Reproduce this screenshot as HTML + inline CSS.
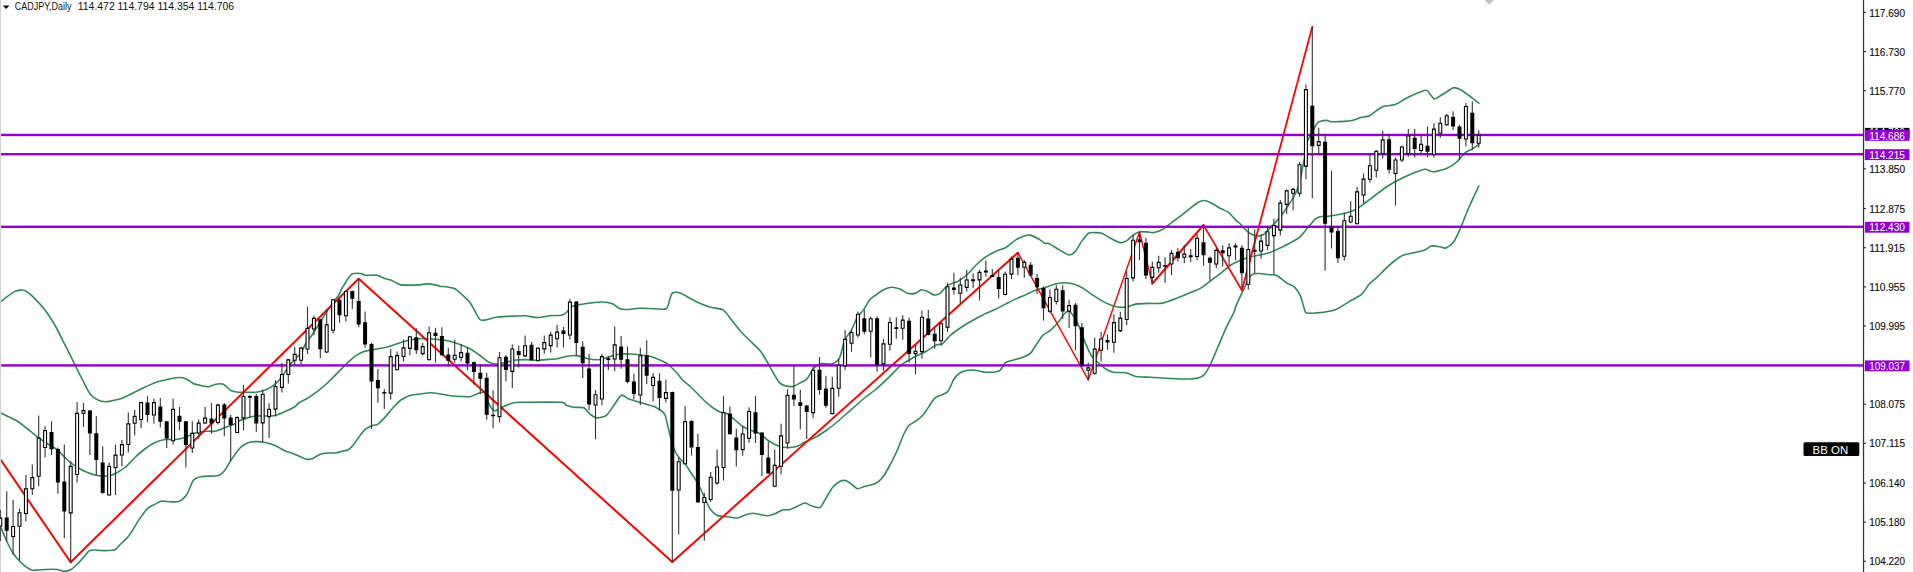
<!DOCTYPE html>
<html><head><meta charset="utf-8"><title>CADJPY,Daily</title>
<style>html,body{margin:0;padding:0;background:#fff;overflow:hidden}body{width:1913px;height:572px}</style></head>
<body>
<svg width="1913" height="572" viewBox="0 0 1913 572" style="display:block">
<rect width="1913" height="572" fill="#fff"/>
<path d="M0 302.16C1 301.39 5.52 297.83 7.53 296.39C9.54 294.95 13.38 292.2 15.06 291.37C16.73 290.53 18.74 290.21 20.08 290.11C21.41 290.01 23.42 289.78 25.09 290.61C26.77 291.45 29.95 293.78 32.62 296.39C35.3 299 42.16 306.27 45.17 310.19C48.18 314.1 52.53 321.06 55.21 325.75C57.88 330.43 62.57 340.03 65.24 345.32C67.92 350.61 72.94 360.71 75.28 365.4C77.62 370.08 80.8 376.6 82.81 380.45C84.82 384.3 88.33 391.64 90.34 394.25C92.35 396.86 95.86 399.02 97.87 400.03C99.87 401.03 103.39 401.71 105.4 401.78C107.4 401.85 110.92 400.93 112.92 400.53C114.93 400.13 118.11 399.61 120.45 398.77C122.79 397.93 127.48 395.69 130.49 394.25C133.5 392.81 139.69 389.55 143.04 387.98C146.38 386.41 152.24 383.63 155.58 382.46C158.93 381.29 165.12 379.87 168.13 379.2C171.14 378.53 175.83 377.51 178.17 377.44C180.51 377.37 183.69 377.89 185.7 378.7C187.7 379.5 191.22 382.56 193.22 383.46C195.23 384.37 198.75 385.04 200.75 385.47C202.76 385.91 206.27 386.89 208.28 386.73C210.29 386.56 213.8 384.55 215.81 384.22C217.82 383.88 221.33 383.38 223.34 384.22C225.35 385.05 228.86 389.42 230.87 390.49C232.87 391.56 236.05 392.01 238.39 392.25C240.74 392.48 246.09 392.25 248.43 392.25C250.77 392.25 253.62 392.58 255.96 392.25C258.3 391.91 263.66 390.64 266 389.74C268.34 388.83 271.52 387.04 273.53 385.47C275.53 383.9 279.05 380.45 281.05 377.94C283.06 375.43 286.57 369.33 288.58 366.65C290.59 363.97 294.44 359.71 296.11 357.87C297.78 356.03 299.79 354.86 301.13 352.85C302.47 350.84 304.48 345.49 306.15 342.81C307.82 340.13 311.67 335.78 313.68 332.77C315.68 329.76 319.2 323.4 321.2 320.23C323.21 317.05 327.06 311.44 328.73 308.93C330.41 306.42 332.41 303.25 333.75 301.41C335.09 299.57 337.72 296.8 338.77 295.13C339.82 293.46 340.81 290.4 341.6 288.9C342.39 287.4 343.86 285.25 344.7 283.9C345.54 282.55 346.89 280.15 347.9 278.8C348.91 277.45 350.62 274.51 352.3 273.8C353.98 273.09 358.74 273.3 360.5 273.5C362.26 273.7 363.33 275.06 365.5 275.3C367.67 275.54 374.12 274.83 376.8 275.3C379.48 275.77 383.75 278.16 385.6 278.8C387.45 279.44 389.35 279.59 390.7 280.1C392.05 280.61 394.35 281.96 395.7 282.6C397.05 283.24 398.95 284.57 400.8 284.9C402.65 285.23 407.04 285.1 409.6 285.1C412.16 285.1 417.73 285.07 420 284.9C422.27 284.73 424.38 283.81 426.6 283.84C428.82 283.87 434.85 284.77 436.64 285.09C438.42 285.42 438.55 286 440 286.25C441.45 286.5 445.5 286.67 447.5 287C449.5 287.33 453 287.68 455 288.75C457 289.82 460.5 293.17 462.5 295C464.5 296.83 468.33 300.33 470 302.5C471.67 304.67 473.67 308.98 475 311.25C476.33 313.52 478.67 318.33 480 319.5C481.33 320.67 482.67 320.33 485 320C487.33 319.67 494.17 317.5 497.5 317C500.83 316.5 506.33 316.42 510 316.25C513.67 316.08 521.33 315.58 525 315.75C528.67 315.92 534.17 317.5 537.5 317.5C540.83 317.5 546.67 316.08 550 315.75C553.33 315.42 560.17 315.6 562.5 315C564.83 314.4 566.17 312.42 567.5 311.25C568.83 310.08 570.83 307.15 572.5 306.25C574.17 305.35 577.67 304.93 580 304.5C582.33 304.07 587 303.33 590 303C593 302.67 599.5 301.9 602.5 302C605.5 302.1 610.17 302.85 612.5 303.75C614.83 304.65 618.17 307.98 620 308.75C621.83 309.52 623.58 309.57 626.25 309.5C628.92 309.43 636.17 308.35 640 308.25C643.83 308.15 651.5 308.68 655 308.75C658.5 308.82 664.25 310.08 666.25 308.75C668.25 307.42 669.17 300.85 670 298.75C670.83 296.65 671.13 293.76 672.5 293C673.87 292.24 677.92 292.29 680.3 293.03C682.68 293.77 687.66 297.14 690.34 298.55C693.02 299.95 697.7 302.39 700.38 303.57C703.05 304.74 707.4 306.49 710.41 307.33C713.43 308.17 720.28 308.33 722.96 309.84C725.64 311.35 728.15 315.78 730.49 318.62C732.83 321.47 737.85 328.16 740.53 331.17C743.2 334.18 747.89 338.53 750.56 341.21C753.24 343.88 758.43 348.57 760.6 351.24C762.78 353.92 765.2 358.44 766.88 361.28C768.55 364.13 771.48 369.73 773.15 372.57C774.82 375.42 777.75 380.84 779.42 382.61C781.1 384.39 783.86 385.37 785.7 385.87C787.54 386.38 791.22 386.81 793.22 386.38C795.23 385.94 798.91 383.62 800.75 382.61C802.59 381.61 805.35 380.69 807.03 378.85C808.7 377.01 811.46 370.82 813.3 368.81C815.14 366.8 818.32 364.46 820.83 363.79C823.34 363.12 829.61 364.63 832.12 363.79C834.63 362.96 837.98 360.7 839.65 357.52C841.32 354.34 843.16 343.47 844.67 339.95C846.17 336.44 849.27 334.18 850.94 331.17C852.61 328.16 855.54 320.21 857.21 317.37C858.89 314.52 861.82 312.18 863.49 309.84C865.16 307.5 868.09 301.81 869.76 299.8C871.43 297.79 874.19 296.12 876.04 294.78C877.88 293.44 881.56 290.77 883.56 289.76C885.57 288.76 888.9 287.35 891.09 287.25C893.28 287.16 897.81 288.27 900 289.08C902.19 289.9 905.52 292.78 907.53 293.35C909.54 293.92 913.22 293.82 915.06 293.35C916.9 292.88 919.66 290.07 921.33 289.84C923 289.6 925.93 290.92 927.6 291.59C929.28 292.26 932.2 294.62 933.88 294.86C935.55 295.09 938.31 294.62 940.15 293.35C941.99 292.08 945.34 286.89 947.68 285.32C950.02 283.75 955.04 283.06 957.72 281.56C960.39 280.05 965.41 276.14 967.75 274.03C970.1 271.92 972.94 267.99 975.28 265.75C977.62 263.5 982.64 259.12 985.32 257.21C988 255.31 992.68 252.71 995.36 251.44C998.03 250.17 1002.72 249.18 1005.4 247.68C1008.07 246.17 1013.09 241.66 1015.43 240.15C1017.77 238.64 1020.95 237.06 1022.96 236.39C1024.97 235.72 1028.22 234.66 1030.49 235.13C1032.76 235.6 1038.07 238.81 1040 239.9C1041.93 240.99 1043.83 242.81 1045 243.3C1046.17 243.79 1046.95 242.76 1048.8 243.6C1050.65 244.44 1056.21 248.08 1058.9 249.6C1061.59 251.12 1066.81 254.76 1069 255C1071.19 255.24 1073.62 253.21 1075.3 251.4C1076.98 249.59 1079.84 243.83 1081.6 241.4C1083.36 238.97 1086.66 234.37 1088.5 233.2C1090.34 232.03 1093.64 232.6 1095.4 232.6C1097.16 232.6 1099.69 232.45 1101.7 233.2C1103.71 233.95 1108.15 236.97 1110.5 238.2C1112.85 239.43 1117.29 241.97 1119.3 242.4C1121.31 242.83 1123.75 242.37 1125.6 241.4C1127.45 240.43 1131.35 236.37 1133.2 235.1C1135.05 233.83 1137.65 232.33 1139.5 231.9C1141.35 231.47 1145.25 231.81 1147.1 231.9C1148.95 231.99 1151.68 232.76 1153.4 232.6C1155.12 232.44 1158.65 231.2 1160 230.7C1161.35 230.2 1162.02 229.87 1163.49 228.86C1164.96 227.84 1168.67 224.86 1171.02 223.09C1173.36 221.31 1178.38 217.63 1181.05 215.56C1183.73 213.48 1188.75 209.34 1191.09 207.53C1193.43 205.72 1196.78 202.94 1198.62 202.01C1200.46 201.07 1203.22 200.37 1204.89 200.5C1206.57 200.64 1208.99 201.91 1211.17 203.01C1213.34 204.12 1218.86 207.51 1221.2 208.78C1223.55 210.05 1226.73 210.97 1228.73 212.55C1230.74 214.12 1234.76 219.12 1236.26 220.58C1237.76 222.04 1239 222.51 1240 223.5C1241 224.49 1242.42 226.67 1243.75 228C1245.08 229.33 1248.17 232.43 1250 233.5C1251.83 234.57 1255.67 235.9 1257.5 236C1259.33 236.1 1262.25 235.15 1263.75 234.25C1265.25 233.35 1267.25 230.75 1268.75 229.25C1270.25 227.75 1273.33 224.83 1275 223C1276.67 221.17 1279.58 217.67 1281.25 215.5C1282.92 213.33 1285.83 209.25 1287.5 206.75C1289.17 204.25 1292.25 199.58 1293.75 196.75C1295.25 193.92 1297.58 189.33 1298.75 185.5C1299.92 181.67 1301.6 172.33 1302.5 168C1303.4 163.67 1304.83 156.57 1305.5 153C1306.17 149.43 1306.43 144.37 1307.5 141.25C1308.57 138.13 1312.21 131.99 1313.5 129.6C1314.79 127.21 1316.45 124.35 1317.2 123.3C1317.95 122.25 1317.83 122.09 1319.1 121.7C1320.37 121.31 1325.02 120.4 1326.7 120.4C1328.38 120.4 1329.35 121.57 1331.7 121.7C1334.05 121.83 1341.45 121.6 1344.3 121.4C1347.15 121.2 1350.91 120.71 1353.1 120.2C1355.29 119.69 1358.51 118.2 1360.7 117.6C1362.89 117 1367.31 116.7 1369.5 115.7C1371.69 114.7 1375.22 111.37 1377.1 110.1C1378.98 108.83 1381.88 106.81 1383.6 106.2C1385.32 105.59 1388.29 105.78 1390 105.5C1391.71 105.22 1394.37 104.99 1396.4 104.1C1398.43 103.21 1402.85 100.09 1405.2 98.8C1407.55 97.51 1411.81 95.37 1414 94.4C1416.19 93.43 1419.84 92.01 1421.6 91.5C1423.36 90.99 1425.52 89.63 1427.2 90.6C1428.88 91.57 1432.44 98.12 1434.2 98.8C1435.96 99.48 1438.56 96.74 1440.4 95.7C1442.24 94.66 1446.21 92.08 1448 91C1449.79 89.92 1452.12 87.76 1453.8 87.6C1455.48 87.44 1458.68 88.81 1460.6 89.8C1462.52 90.79 1466.52 93.8 1468.2 95C1469.88 96.2 1471.77 97.71 1473.2 98.8C1474.63 99.89 1478.14 102.61 1478.9 103.2" fill="none" stroke="#2E8B57" stroke-width="1.6" stroke-linejoin="round" stroke-linecap="round"/>
<path d="M0 412.5C1 413 5.17 415.08 7.5 416.25C9.83 417.42 14.83 419.58 17.5 421.25C20.17 422.92 24.83 426.65 27.5 428.75C30.17 430.85 34.83 435 37.5 437C40.17 439 44.83 442.02 47.5 443.75C50.17 445.48 54.83 447.83 57.5 450C60.17 452.17 64.83 457.67 67.5 460C70.17 462.33 74.83 465.83 77.5 467.5C80.17 469.17 84.83 471.43 87.5 472.5C90.17 473.57 94.83 475.03 97.5 475.5C100.17 475.97 105.17 476.23 107.5 476C109.83 475.77 112.67 474.88 115 473.75C117.33 472.62 122.33 469.67 125 467.5C127.67 465.33 132.33 460 135 457.5C137.67 455 142.33 450.75 145 448.75C147.67 446.75 152.33 443.73 155 442.5C157.67 441.27 162.33 439.9 165 439.5C167.67 439.1 172.33 439.77 175 439.5C177.67 439.23 182.33 438.37 185 437.5C187.67 436.63 192.33 433.83 195 433C197.67 432.17 202.33 431.48 205 431.25C207.67 431.02 212.33 431.75 215 431.25C217.67 430.75 222.33 428.5 225 427.5C227.67 426.5 233 424.68 235 423.75C237 422.82 238.33 421.27 240 420.5C241.67 419.73 245.5 418.6 247.5 418C249.5 417.4 252.67 416.27 255 416C257.33 415.73 262.33 416.07 265 416C267.67 415.93 272.31 416.09 275 415.5C277.69 414.91 282.51 412.8 285.2 411.6C287.89 410.4 293.41 407.64 295.2 406.5C296.99 405.36 296.83 404.23 298.62 403.04C300.41 401.84 305.98 399.19 308.66 397.52C311.33 395.84 316.02 392.6 318.7 390.49C321.37 388.38 326.06 384.22 328.73 381.71C331.41 379.2 336.09 374.35 338.77 371.67C341.45 368.99 346.47 363.81 348.81 361.63C351.15 359.46 354.33 356.7 356.34 355.36C358.34 354.02 361.86 352.33 363.86 351.59C365.87 350.86 369.05 350.27 371.39 349.84C373.73 349.4 378.75 348.87 381.43 348.33C384.11 347.8 388.79 346.62 391.47 345.82C394.14 345.02 398.83 343.11 401.51 342.31C404.18 341.51 408.87 340.3 411.54 339.8C414.22 339.3 418.9 338.64 421.58 338.54C424.26 338.44 428.94 338.88 431.62 339.05C434.3 339.21 439.21 339.5 441.66 339.8C444.11 340.1 447.55 340.67 450 341.3C452.45 341.93 457.33 343.5 460 344.5C462.67 345.5 467.33 347.33 470 348.8C472.67 350.27 477.55 353.74 480 355.5C482.45 357.26 486.27 360.87 488.4 362C490.53 363.13 493.65 363.96 496 364C498.35 364.04 503.33 362.83 506 362.3C508.67 361.77 513.33 360.36 516 360C518.67 359.64 523.33 359.56 526 359.6C528.67 359.64 533.33 360.3 536 360.3C538.67 360.3 543.2 359.8 546 359.6C548.8 359.4 554.2 359.24 557 358.8C559.8 358.36 564.33 356.73 567 356.3C569.67 355.87 574.33 355.31 577 355.6C579.67 355.89 584.33 357.94 587 358.5C589.67 359.06 594.47 359.87 597 359.8C599.53 359.73 603.87 358.57 606 358C608.13 357.43 611 356.03 613 355.5C615 354.97 618.6 354.2 621 354C623.4 353.8 628.33 353.87 631 354C633.67 354.13 638.33 354.67 641 355C643.67 355.33 648.47 355.83 651 356.5C653.53 357.17 657.87 359.07 660 360C662.13 360.93 665.4 362.43 667 363.5C668.6 364.57 670.56 366.6 672 368C673.44 369.4 676.4 372.4 677.8 374C679.2 375.6 680.87 378.37 682.5 380C684.13 381.63 688 384.42 690 386.25C692 388.08 695.5 391.75 697.5 393.75C699.5 395.75 703 399.42 705 401.25C707 403.08 710.5 406.07 712.5 407.5C714.5 408.93 718 411.17 720 412C722 412.83 725.5 412.68 727.5 413.75C729.5 414.82 733 418.33 735 420C737 421.67 740.5 424.92 742.5 426.25C744.5 427.58 747.67 429 750 430C752.33 431 757.67 432.42 760 433.75C762.33 435.08 765.5 438.57 767.5 440C769.5 441.43 773 443.57 775 444.5C777 445.43 780.5 446.6 782.5 447C784.5 447.4 788 447.6 790 447.5C792 447.4 795.5 446.98 797.5 446.25C799.5 445.52 802.67 443.17 805 442C807.33 440.83 812.33 438.93 815 437.5C817.67 436.07 822.33 433.08 825 431.25C827.67 429.42 832.33 425.92 835 423.75C837.67 421.58 842.33 417.33 845 415C847.67 412.67 852.33 408.58 855 406.25C857.67 403.92 862.33 399.67 865 397.5C867.67 395.33 871.86 392.65 875 390C878.14 387.35 885.1 380.92 888.58 377.59C892.07 374.27 897.78 367.72 901.13 365.05C904.48 362.37 910.33 359.36 913.68 357.52C917.02 355.68 923.21 352.92 926.22 351.24C929.23 349.57 934.07 346 936.26 344.97C938.45 343.94 940.8 344.8 942.66 343.54C944.52 342.28 947.85 337.58 950.19 335.51C952.53 333.43 957.55 329.82 960.23 327.98C962.9 326.14 967.25 323.45 970.26 321.71C973.27 319.97 979.46 316.6 982.81 314.93C986.16 313.26 992.35 310.6 995.36 309.16C998.37 307.72 1002.72 305.48 1005.4 304.14C1008.07 302.8 1012.76 300.36 1015.43 299.12C1018.11 297.88 1022.79 296.03 1025.47 294.86C1028.15 293.68 1032.83 291.34 1035.51 290.34C1038.18 289.34 1042.87 288.16 1045.55 287.33C1048.22 286.49 1052.91 284.67 1055.58 284.07C1058.26 283.46 1062.94 282.71 1065.62 282.81C1068.3 282.91 1073.32 284.08 1075.66 284.82C1078 285.55 1080.84 286.93 1083.19 288.33C1085.53 289.74 1090.55 293.58 1093.22 295.36C1095.9 297.13 1100.59 300.23 1103.26 301.63C1105.94 303.04 1110.96 305.13 1113.3 305.9C1115.64 306.67 1118.82 307.3 1120.83 307.4C1122.84 307.5 1126.35 307.08 1128.36 306.65C1130.36 306.21 1133.21 304.58 1135.88 304.14C1138.56 303.71 1145.09 303.49 1148.43 303.39C1151.78 303.29 1157.97 303.79 1160.98 303.39C1163.99 302.99 1168.34 301.28 1171.02 300.38C1173.69 299.47 1178.38 297.68 1181.05 296.61C1183.73 295.54 1188.41 293.52 1191.09 292.35C1193.77 291.18 1198.45 289.44 1201.13 287.83C1203.81 286.22 1208.49 282.31 1211.17 280.3C1213.84 278.29 1218.53 274.85 1221.2 272.77C1223.88 270.7 1228.74 266.38 1231.24 264.74C1233.75 263.11 1237.5 261.56 1240 260.5C1242.5 259.44 1247.33 257.53 1250 256.8C1252.67 256.07 1257.33 255.57 1260 255C1262.67 254.43 1267.33 253.43 1270 252.5C1272.67 251.57 1277.33 249.27 1280 248C1282.67 246.73 1287.33 244.49 1290 243C1292.67 241.51 1297.67 238.8 1300 236.8C1302.33 234.8 1305.5 230.33 1307.5 228C1309.5 225.67 1313.33 220.79 1315 219.3C1316.67 217.81 1318 217.24 1320 216.8C1322 216.36 1327.33 216.33 1330 216C1332.67 215.67 1337.33 214.86 1340 214.3C1342.67 213.74 1347.67 212.57 1350 211.8C1352.33 211.03 1355.5 209.67 1357.5 208.5C1359.5 207.33 1362.67 204.73 1365 203C1367.33 201.27 1372.33 197.5 1375 195.5C1377.67 193.5 1382.33 189.83 1385 188C1387.67 186.17 1392.33 183.29 1395 181.8C1397.67 180.31 1402.33 178.04 1405 176.8C1407.67 175.56 1412.33 173.5 1415 172.5C1417.67 171.5 1422.67 169.39 1425 169.3C1427.33 169.21 1430.5 171.64 1432.5 171.8C1434.5 171.96 1438 171.01 1440 170.5C1442 169.99 1445.26 169.13 1447.5 168C1449.74 166.87 1454.39 164.09 1456.8 162C1459.21 159.91 1463.59 154.01 1465.6 152.3C1467.61 150.59 1470.13 150.25 1471.9 149.2C1473.67 148.15 1477.97 145.04 1478.9 144.4" fill="none" stroke="#2E8B57" stroke-width="1.6" stroke-linejoin="round" stroke-linecap="round"/>
<path d="M0 525.16C0.84 527.17 4.53 536.48 6.29 540.25C8.05 544.03 11.45 550.69 13.21 553.46C14.97 556.23 17.82 559.25 19.5 561.01C21.17 562.77 24.19 565.46 25.79 566.67C27.38 567.87 29.85 569.61 31.45 570.06C33.04 570.52 35.89 570.15 37.74 570.06C39.58 569.98 43.27 569.55 45.28 569.43C47.3 569.32 51.15 569.17 52.83 569.18C54.51 569.2 56.35 569.27 57.86 569.56C59.37 569.84 62.47 571.29 64.15 571.32C65.83 571.35 68.76 570.68 70.44 569.81C72.12 568.94 75.05 566.37 76.73 564.78C78.41 563.19 81.34 559.71 83.02 557.86C84.7 556.02 87.63 552 89.31 550.94C90.99 549.89 94.09 549.99 95.6 549.94C97.11 549.89 98.95 550.48 100.63 550.57C102.31 550.65 106.25 550.68 108.18 550.57C110.1 550.45 113.42 550.56 115.09 549.69C116.77 548.81 118.99 545.79 120.75 544.03C122.52 542.26 126.62 538.49 128.3 536.48C129.98 534.47 131.82 531.28 133.33 528.93C134.84 526.58 137.78 521.55 139.62 518.87C141.47 516.18 145.32 510.65 147.17 508.81C149.01 506.96 151.61 506.04 153.46 505.03C155.3 504.03 159.16 501.73 161.01 501.26C162.85 500.79 164.95 501.48 167.3 501.51C169.64 501.54 176 502.48 178.62 501.51C181.24 500.54 185 497.05 186.95 494.24C188.9 491.44 191.38 482.79 193.22 480.44C195.06 478.1 197.41 477.35 200.75 476.68C204.1 476.01 215.14 476.26 218.32 475.42C221.5 474.59 222.92 472.41 224.59 470.41C226.27 468.4 228.81 463.36 230.87 460.37C232.92 457.37 237.78 450.27 240 447.94C242.22 445.62 245.52 443.76 247.53 442.92C249.54 442.09 252.71 441.74 255.06 441.67C257.4 441.6 262.42 441.92 265.09 442.42C267.77 442.92 272.46 444.3 275.13 445.43C277.81 446.57 283.16 450.02 285.17 450.95C287.18 451.89 288.52 451.86 290.19 452.46C291.86 453.06 295.54 454.57 297.72 455.47C299.89 456.37 304.49 458.83 306.5 459.23C308.51 459.64 310.93 459.15 312.77 458.48C314.61 457.81 318.29 454.95 320.3 454.22C322.31 453.48 325.82 453.13 327.83 452.96C329.84 452.79 333.35 453.23 335.36 452.96C337.37 452.69 341.21 451.36 342.89 450.95C344.56 450.55 346.57 450.69 347.9 449.95C349.24 449.21 351.42 447.21 352.92 445.43C354.43 443.66 357.52 438.82 359.2 436.65C360.87 434.48 363.63 430.63 365.47 429.12C367.31 427.62 371.33 426.03 373 425.36C374.67 424.69 376.34 425.27 378.02 424.1C379.69 422.93 383.54 418.75 385.55 416.57C387.55 414.4 391.07 409.97 393.07 407.79C395.08 405.62 398.26 401.94 400.6 400.26C402.94 398.59 407.96 396.08 410.64 395.24C413.32 394.41 418 394.32 420.68 393.99C423.35 393.66 428.04 392.74 430.72 392.74C433.39 392.74 438.08 393.59 440.75 393.99C443.43 394.39 448.11 395.41 450.79 395.75C453.47 396.08 458.15 396.4 460.83 396.5C463.5 396.6 468.52 396.93 470.87 396.5C473.21 396.06 476.55 393.74 478.39 393.24C480.23 392.74 483.33 391.46 484.67 392.74C486.01 394.01 487.26 400.43 488.43 402.77C489.6 405.12 492.11 409.36 493.45 410.3C494.79 411.24 497.13 410.3 498.47 409.8C499.81 409.3 501.48 407.47 503.49 406.54C505.5 405.6 510.85 403.34 513.53 402.77C516.2 402.2 517.21 402.34 523.56 402.27C529.92 402.2 555.52 401.87 561.2 402.27C566.89 402.67 564.55 404.61 566.22 405.28C567.9 405.95 571.41 406.96 573.75 407.29C576.09 407.62 581.61 406.89 583.79 407.79C585.96 408.7 588.39 412.73 590.06 414.07C591.74 415.4 594.16 417.66 596.34 417.83C598.51 418 604.03 416.99 606.37 415.32C608.72 413.65 611.89 407.96 613.9 405.28C615.91 402.61 619.42 396.08 621.43 395.24C623.44 394.41 626.28 398.01 628.96 399.01C631.64 400.01 638.16 401.77 641.51 402.77C644.85 403.78 651.59 405.57 654.05 406.54C656.52 407.5 658.54 408.87 660 410C661.46 411.13 663.67 411.67 665 415C666.33 418.33 668.67 430.17 670 435C671.33 439.83 673.67 448.08 675 451.25C676.33 454.42 678.67 457.08 680 458.75C681.33 460.42 683.67 462.08 685 463.75C686.33 465.42 688.67 469.25 690 471.25C691.33 473.25 693.67 476.58 695 478.75C696.33 480.92 698.67 484.83 700 487.5C701.33 490.17 703.67 495.92 705 498.75C706.33 501.58 708.5 506.58 710 508.75C711.5 510.92 714.58 514 716.25 515C717.92 516 720.67 515.98 722.5 516.25C724.33 516.52 728 516.77 730 517C732 517.23 735.5 518.27 737.5 518C739.5 517.73 743 515.63 745 515C747 514.37 750.5 513.32 752.5 513.25C754.5 513.18 758 514.17 760 514.5C762 514.83 765.5 515.85 767.5 515.75C769.5 515.65 773 514.52 775 513.75C777 512.98 780.5 510.57 782.5 510C784.5 509.43 788 510 790 509.5C792 509 795.5 507.12 797.5 506.25C799.5 505.38 803 503 805 503C807 503 810.5 505.65 812.5 506.25C814.5 506.85 818.33 508.33 820 507.5C821.67 506.67 823.33 502.67 825 500C826.67 497.33 830.5 490 832.5 487.5C834.5 485 838.17 482.15 840 481.25C841.83 480.35 844.58 480.25 846.25 480.75C847.92 481.25 851 483.93 852.5 485C854 486.07 855.83 488.58 857.5 488.75C859.17 488.92 862.67 486.92 865 486.25C867.33 485.58 872.67 484.92 875 483.75C877.33 482.58 880.5 480 882.5 477.5C884.5 475 888.17 468.33 890 465C891.83 461.67 894.92 455.36 896.25 452.5C897.58 449.64 899 445.97 900 443.54C901 441.11 902.59 436.66 903.76 434.25C904.94 431.84 907.28 427.14 908.78 425.47C910.29 423.8 913.22 423.04 915.06 421.71C916.9 420.37 920.74 417.44 922.58 415.43C924.42 413.43 927.19 408.99 928.86 406.65C930.53 404.31 932.62 399.87 935.13 397.87C937.64 395.86 945.17 394.1 947.68 391.59C950.19 389.08 952.28 381.56 953.95 379.05C955.63 376.54 958.39 373.94 960.23 372.77C962.07 371.6 965.75 370.6 967.75 370.26C969.76 369.93 972.94 370 975.28 370.26C977.62 370.53 982.14 372.17 985.32 372.27C988.5 372.37 996.45 372.29 999.12 371.02C1001.8 369.74 1003.55 364.17 1005.4 362.74C1007.24 361.3 1010.58 360.96 1012.92 360.23C1015.27 359.49 1020.62 358.15 1022.96 357.21C1025.3 356.28 1028.65 354.97 1030.49 353.2C1032.33 351.43 1035.09 346.32 1036.76 343.91C1038.44 341.51 1041.2 336.97 1043.04 335.13C1044.88 333.29 1048.56 331.79 1050.56 330.11C1052.57 328.44 1056.25 324.76 1058.09 322.58C1059.93 320.41 1062.86 315.31 1064.37 313.8C1065.87 312.3 1067.88 310.52 1069.39 311.29C1070.89 312.06 1074.15 317.06 1075.66 319.57C1077.16 322.08 1079.34 326.87 1080.68 330.11C1082.02 333.36 1084.19 340.4 1085.7 343.91C1087.2 347.43 1090.3 353.95 1091.97 356.46C1093.64 358.97 1096.4 361.06 1098.24 362.74C1100.08 364.41 1103.76 367.74 1105.77 369.01C1107.78 370.28 1110.62 371.77 1113.3 372.27C1115.98 372.77 1122.84 372.2 1125.85 372.77C1128.86 373.34 1132.54 375.93 1135.88 376.54C1139.23 377.14 1146.26 377.02 1150.94 377.29C1155.63 377.56 1166 378.31 1171.02 378.54C1176.04 378.78 1184.9 379.15 1188.58 379.05C1192.26 378.95 1196.45 378.46 1198.62 377.79C1200.79 377.12 1203.22 376.04 1204.89 374.03C1206.57 372.02 1209.33 366.58 1211.17 362.74C1213.01 358.89 1216.69 349.85 1218.7 345.17C1220.7 340.49 1224.22 331.95 1226.22 327.6C1228.23 323.25 1232.41 315.51 1233.75 312.55C1235.09 309.59 1234.92 308.52 1236.26 305.4C1237.6 302.27 1241.78 293.1 1243.79 289.08C1245.8 285.07 1249.31 277.36 1251.32 275.28C1253.32 273.21 1256.5 273.59 1258.85 273.53C1261.19 273.46 1266.54 274.55 1268.88 274.78C1271.23 275.01 1274.07 274.21 1276.41 275.28C1278.75 276.35 1284.11 281.3 1286.45 282.81C1288.79 284.32 1292.14 284.9 1293.98 286.57C1295.82 288.25 1298.91 292.51 1300.25 295.36C1301.59 298.2 1303.18 305.56 1304.02 307.9C1304.85 310.25 1304.85 312.25 1306.52 312.92C1308.2 313.59 1313.89 313.09 1316.56 312.92C1319.24 312.76 1323.92 312.17 1326.6 311.67C1329.28 311.17 1333.63 310.5 1336.64 309.16C1339.65 307.82 1345.84 303.64 1349.18 301.63C1352.53 299.62 1359.05 296.45 1361.73 294.1C1364.41 291.76 1367.16 286.37 1369.26 284.07C1371.36 281.76 1375.07 279.1 1377.5 276.8C1379.93 274.5 1385.17 268.97 1387.5 266.8C1389.83 264.63 1393 262.01 1395 260.5C1397 258.99 1399.83 256.57 1402.5 255.5C1405.17 254.43 1412 253.23 1415 252.5C1418 251.77 1422.87 250.87 1425 250C1427.13 249.13 1429 246.43 1431 246C1433 245.57 1438 246.53 1440 246.8C1442 247.07 1444.16 248.67 1446 248C1447.84 247.33 1451.93 244.29 1453.8 241.8C1455.67 239.31 1458.37 232.97 1460 229.3C1461.63 225.63 1464.33 218.3 1466 214.3C1467.67 210.3 1470.79 203.07 1472.5 199.3C1474.21 195.53 1477.96 187.77 1478.8 186" fill="none" stroke="#2E8B57" stroke-width="1.6" stroke-linejoin="round" stroke-linecap="round"/>
<line x1="-10" y1="444.2" x2="70.7" y2="562.3" stroke="#FF0000" stroke-width="2.0" stroke-linecap="round"/>
<line x1="70.7" y1="562.3" x2="358.7" y2="278.8" stroke="#FF0000" stroke-width="2.0" stroke-linecap="round"/>
<line x1="358.7" y1="278.8" x2="672.3" y2="562" stroke="#FF0000" stroke-width="2.0" stroke-linecap="round"/>
<line x1="672.3" y1="562" x2="1017.9" y2="252.7" stroke="#FF0000" stroke-width="2.0" stroke-linecap="round"/>
<line x1="1017.9" y1="252.7" x2="1088.3" y2="379.8" stroke="#FF0000" stroke-width="1.4" stroke-linecap="round"/>
<line x1="1088.3" y1="379.8" x2="1139.5" y2="232.1" stroke="#FF0000" stroke-width="1.4" stroke-linecap="round"/>
<line x1="1139.5" y1="232.1" x2="1152.3" y2="283.6" stroke="#FF0000" stroke-width="1.4" stroke-linecap="round"/>
<line x1="1152.3" y1="283.6" x2="1203.5" y2="225.1" stroke="#FF0000" stroke-width="2.2" stroke-linecap="round"/>
<line x1="1203.5" y1="225.1" x2="1241.9" y2="290.3" stroke="#FF0000" stroke-width="1.7" stroke-linecap="round"/>
<line x1="1241.9" y1="290.3" x2="1312.3" y2="26.8" stroke="#FF0000" stroke-width="1.8" stroke-linecap="round"/>
<rect x="0" y="133.75" width="1864" height="2.4" fill="#9400D3"/>
<rect x="0" y="153" width="1864" height="2.4" fill="#9400D3"/>
<rect x="0" y="225.6" width="1864" height="2.4" fill="#9400D3"/>
<rect x="0" y="364.2" width="1864" height="2.4" fill="#9400D3"/>
<rect x="0" y="0" width="1.1" height="572" fill="#D4D4D4"/>
<path d="M0.3 510V541M6.7 491.25V541.51M13.1 500V554.72M19.5 508.46V560.38M25.9 475V521.32M32.3 464.5V495M38.7 415.5V486.25M45.1 426.25V457.5M51.5 421.25V455M57.9 447.5V493.75M64.3 444.5V538.36M70.7 461.25V562.26M77.1 402V482.5M83.5 403V427M89.9 410V455M96.3 416.25V475M102.7 446.25V493.75M109.1 462.5V495.5M115.5 444.5V495M121.9 440V466.25M128.3 412.5V452.5M134.7 410V435.5M141.1 402V428M147.5 396.25V422M153.9 398.75V423.75M160.3 398V427.5M166.7 421.25V448M173.1 398.75V444.5M179.5 407V430M185.9 421.25V467.5M192.3 421.25V453M198.7 419.5V438.75M205.1 407V423.75M211.5 403V433.75M217.9 403.75V424.5M224.3 403V436.25M230.7 415V461.25M237.1 416.25V433M243.5 384.96V430.38M249.9 394.74V417.83M256.3 393.99V431.63M262.7 389.73V441.67M269.1 403.27V437.9M275.5 380.32V416.57M281.9 363.01V392.62M288.3 358.99V383.46M294.7 346.82V365.01M301.1 346.82V364.01M307.5 306.42V353.97M313.9 315.71V335.28M320.3 318.97V358.24M326.7 308.93V352.97M333.1 298.9V333.27M339.5 297.64V322.74M345.9 290.61V321.48M352.3 290.61V308.93M358.7 278.82V327.25M365.1 311.44V347.7M371.5 342.81V429.12M377.9 369.03V402.77M384.3 389.1V409.05M390.7 348.95V399.39M397.1 351.46V370.28M403.5 339.67V361.5M409.9 336.15V355.23M416.3 328.26V353.97M422.7 342.68V355.23M429.1 326.5V360.24M435.5 327.75V362.75M441.9 327.13V355.23M448.3 347.8V366.43M454.7 340.11V362.67M461.1 344.12V361.42M467.5 346.63V370.19M473.9 361.42V384.56M480.3 364.18V394.12M486.7 373.08V419.84M493.1 390.23V428.37M499.5 352.04V422.35M505.9 355.05V381.35M512.3 344.53V388.11M518.7 345.53V367.57M525.1 335.51V357.05M531.5 342.02V360.56M537.9 347.03V361.31M544.3 335.51V353.79M550.7 332V352.54M557.1 325V347.53M563.5 327V347.53M569.9 298.75V339.52M576.3 301.25V356.3M582.7 341.27V378.09M589.1 353.79V410.15M595.5 390.11V439.16M601.9 354.03V405.16M608.3 356.29V370.07M614.7 326.58V371.33M621.1 335.99V368.82M627.5 346.51V383.61M633.9 373.83V399.31M640.3 347.85V405.16M646.7 340.16V384.27M653.1 373V401.4M659.5 373.16V410.01M665.9 379.43V402.49M672.3 391.4V562M678.7 457.74V534.4M685.1 406V464.3M691.5 420.13V455.44M697.9 433.97V502.39M704.3 492.99V540.67M710.7 472.08V501.89M717.1 449.51V484.85M723.5 396.33V480.47M729.9 406.35V434.51M736.3 428.75V466.45M742.7 426.25V455.8M749.1 407.35V442.65M755.5 396.08V442.9M761.9 432.5V476.21M768.3 441.4V473.71M774.7 449.54V487.36M781.1 423.63V474.59M787.5 389.19V448.66M793.9 365.8V406.1M800.3 389.82V429.5M806.7 405.1V438.89M813.1 366.3V418.25M819.5 357.02V394.7M825.9 375.84V407.85M832.3 376.84V414.24M838.7 358.77V396.71M845.1 329.91V370.07M851.5 329.91V351.75M857.9 311.6V337.44M864.3 309.84V334.18M870.7 316.61V357.52M877.1 316.61V371.82M883.5 338.7V370.82M889.9 317.37V350.74M896.3 317.37V338.7M902.7 315.33V339.68M909.1 317.47V362.39M915.5 345.07V374.56M921.9 310.52V358.87M928.3 309.93V335.36M934.7 327.83V348.83M941.1 320.97V345.7M947.5 282.81V332.1M953.9 272.77V294.44M960.3 277.79V303.48M966.7 269.76V291.56M973.1 273.27V288.33M979.5 269.76V300.47M985.9 260.73V276.54M992.3 269.01V276.79M998.7 269.76V298.46M1005.1 271.52V295.2M1011.5 256.46V279.05M1017.9 252.7V275.28M1024.3 260.23V277.79M1030.7 262.23V276.54M1037.1 274.03V294.1M1043.5 286.57V320.39M1049.9 289.42V312.69M1056.3 285.32V304.41M1062.7 285.32V318.88M1069.1 299.84V328.08M1075.5 302.99V350.09M1081.9 323.02V367.25M1088.3 362.74V379.8M1094.7 337.83V374.78M1101.1 331.93V361.48M1107.5 334.44V349.69M1113.9 314.37V352.7M1120.3 311.86V331.93M1126.7 271.52V325.03M1133.1 234.63V281.56M1139.5 232.12V260.23M1145.9 237.64V279.05M1152.3 261.48V283.56M1158.7 255.71V272.77M1165.1 257.21V282.81M1171.5 250.19V275.28M1177.9 248.18V261.48M1184.3 245.17V263.24M1190.7 248.93V262.23M1197.1 233.88V260.23M1203.5 225.09V265.75M1209.9 256.46V280.8M1216.3 248.18V268.26M1222.7 245.17V266.5M1229.1 243.16V265.75M1235.5 243.16V260.23M1241.9 245.17V288.17M1248.3 227.8V289.54M1254.7 229.43V273.51M1261.1 234.69V258.74M1267.5 225.92V250.09M1273.9 218.66V274.52M1280.3 200V235.57M1286.7 189.58V214.1M1293.1 187.95V210.18M1299.5 162.03V196.72M1305.9 84.51V179.19M1312.3 26.75V198.22M1318.7 127.68V154.14M1325.1 133.95V270.63M1331.5 170.67V248.47M1337.9 227.3V263.12M1344.3 212.77V260.61M1350.7 201.13V223.17M1357.1 186.75V224.3M1363.5 173.43V202.98M1369.9 153.76V182.44M1376.3 150.13V177.43M1382.7 130.69V158.4M1389.1 133.95V173.43M1395.5 157.39V205.49M1401.9 145.62V162.03M1408.3 128.93V156.64M1414.7 128.93V157.39M1421.1 135.21V152.89M1427.5 126.42V157.39M1433.9 123.16V157.39M1440.3 117.14V137.72M1446.7 113.88V125.67M1453.1 111.37V130.19M1459.5 124.67V159.8M1465.9 103.09V146.5M1472.3 101.33V150.26M1478.7 130.19V147.75" stroke="#333" stroke-width="1.1" fill="none"/>
<path d="M4.7 517.47h4V530.79h-4zM49.5 432.1h4V449.35h-4zM55.9 449.1h4V482.6h-4zM62.3 481.6h4V511.38h-4zM87.9 410.6h4V433.6h-4zM94.3 433.35h4V460.1h-4zM100.7 462.6h4V493.1h-4zM145.5 402.6h4V415.1h-4zM158.3 406.6h4V421.85h-4zM164.7 421.35h4V438.6h-4zM177.5 415.85h4V421.85h-4zM183.9 421.35h4V445.1h-4zM209.5 418.6h4V423.6h-4zM222.3 404.6h4V418.6h-4zM228.7 417.6h4V425.1h-4zM247.9 396.1h4V397.85h-4zM254.3 396.1h4V423.45h-4zM318.3 319.32h4V349.18h-4zM337.5 299.75h4V315.31h-4zM350.3 290.97h4V298.74h-4zM356.7 301.01h4V324.59h-4zM363.1 322.34h4V344.53h-4zM369.5 343.91h4V381.55h-4zM375.9 379.92h4V388.2h-4zM382.3 391.97h4V393.47h-4zM414.3 337.26h4V350.18h-4zM433.5 332.74h4V336h-4zM439.9 335.95h4V355.25h-4zM446.3 354.42h4V360.76h-4zM465.5 352.75h4V363.44h-4zM471.9 362.27h4V372.04h-4zM478.3 372.68h4V378.69h-4zM484.7 377.69h4V414.67h-4zM491.1 414.67h4V416.17h-4zM503.9 356.65h4V370.05h-4zM516.7 350.89h4V354.9h-4zM529.5 344.63h4V360.16h-4zM561.5 330.48h4V333.98h-4zM574.3 301.6h4V343.12h-4zM580.7 346.63h4V363.16h-4zM587.1 368.42h4V404.49h-4zM606.3 358.14h4V359.9h-4zM619.1 346.61h4V359.81h-4zM625.5 359.31h4V381.95h-4zM631.9 381.45h4V393.9h-4zM644.7 355.22h4V375.68h-4zM657.5 380.78h4V398.07h-4zM670.3 392.07h4V490.84h-4zM689.5 421.05h4V447.52h-4zM695.9 446.94h4V502.49h-4zM727.9 413.46h4V434.23h-4zM734.3 437.49h4V450.14h-4zM753.5 412.21h4V433.48h-4zM759.9 432.48h4V454.9h-4zM766.3 457.53h4V473.56h-4zM791.9 394.68h4V399.44h-4zM798.3 402.32h4V406.07h-4zM804.7 405.58h4V411.96h-4zM817.5 369.67h4V390.04h-4zM823.9 388.42h4V405.7h-4zM862.3 318.22h4V331.77h-4zM875.1 318.22h4V364.89h-4zM894.3 327.26h4V329.01h-4zM907.1 320.83h4V354.08h-4zM926.3 318.48h4V334.95h-4zM932.7 333.7h4V341.23h-4zM951.9 287.52h4V290.02h-4zM971.1 279.15h4V281.15h-4zM983.9 270.62h4V272.62h-4zM990.3 274.88h4V276.89h-4zM996.7 276.89h4V289.02h-4zM1015.9 257.82h4V267.85h-4zM1028.7 264.84h4V275.38h-4zM1035.1 277.89h4V287.17h-4zM1041.5 288.02h4V308.27h-4zM1060.7 290.28h4V311.53h-4zM1073.5 304.85h4V326.34h-4zM1079.9 327.14h4V365.84h-4zM1105.5 339.94h4V342.57h-4zM1137.5 239.25h4V242.26h-4zM1143.9 242.76h4V275.38h-4zM1163.1 265.35h4V266.85h-4zM1175.9 251.8h4V258.32h-4zM1188.7 255.31h4V257.31h-4zM1201.5 242.26h4V255.31h-4zM1207.9 257.82h4V262.83h-4zM1220.7 250.29h4V253.3h-4zM1233.5 245.52h4V247.53h-4zM1239.9 247.69h4V273.24h-4zM1252.7 249.82h4V251.7h-4zM1310.3 105.65h4V146.22h-4zM1323.1 141.83h4V223.64h-4zM1329.5 226.15h4V232.41h-4zM1335.9 230.78h4V258.21h-4zM1387.1 139.32h4V169.77h-4zM1412.7 137.82h4V148.98h-4zM1425.5 145.85h4V151.86h-4zM1451.1 116.74h4V126.52h-4zM1457.5 126.53h4V138.82h-4zM1470.3 112.72h4V143.34h-4z" fill="#000"/>
<path d="M-1.15 518.15h2.9V526.05h-2.9zM11.65 526.57h2.9V536.53h-2.9zM18.05 512.69h2.9V526.21h-2.9zM24.45 488.9h2.9V513.53h-2.9zM30.85 477.65h2.9V488.8h-2.9zM37.25 438.15h2.9V476.3h-2.9zM43.65 430.65h2.9V447.55h-2.9zM69.25 466.4h2.9V512.9h-2.9zM75.65 413.4h2.9V474.55h-2.9zM82.05 410.65h2.9V413.3h-2.9zM107.65 466.4h2.9V495.05h-2.9zM114.05 455.15h2.9V467.55h-2.9zM120.45 444.65h2.9V455.05h-2.9zM126.85 423.9h2.9V444.55h-2.9zM133.25 416.4h2.9V423.3h-2.9zM139.65 402.65h2.9V419.55h-2.9zM152.45 402.65h2.9V415.05h-2.9zM171.65 409.4h2.9V440.8h-2.9zM190.85 433.4h2.9V448.05h-2.9zM197.25 423.15h2.9V433.05h-2.9zM203.65 418.15h2.9V423.05h-2.9zM216.45 405.15h2.9V422.55h-2.9zM235.65 417.65h2.9V432.55h-2.9zM242.05 396.53h2.9V417.88h-2.9zM261.25 394.27h2.9V422.9h-2.9zM267.65 409.2h2.9V416.62h-2.9zM274.05 386.49h2.9V409.1h-2.9zM280.45 374.57h2.9V387.4h-2.9zM286.85 359.89h2.9V374.47h-2.9zM293.25 354.37h2.9V360.29h-2.9zM299.65 348.1h2.9V360.29h-2.9zM306.05 328.41h2.9V349h-2.9zM312.45 318.37h2.9V329.06h-2.9zM325.25 324.89h2.9V352.01h-2.9zM331.65 299.8h2.9V330.31h-2.9zM344.45 291.52h2.9V315.76h-2.9zM389.25 356.63h2.9V393.17h-2.9zM395.65 355.63h2.9V369.7h-2.9zM402.05 347.85h2.9V356.53h-2.9zM408.45 336.81h2.9V348.37h-2.9zM421.25 346.59h2.9V353.64h-2.9zM427.65 332.79h2.9V359.79h-2.9zM453.25 355.3h2.9V359.21h-2.9zM459.65 352.63h2.9V357.37h-2.9zM498.05 357.7h2.9V416.62h-2.9zM510.85 348.94h2.9V371.38h-2.9zM523.65 345.68h2.9V355.85h-2.9zM536.45 348.18h2.9V360.61h-2.9zM542.85 342.67h2.9V348.84h-2.9zM549.25 335.16h2.9V345.58h-2.9zM555.65 332.15h2.9V338.82h-2.9zM568.45 302.15h2.9V335.06h-2.9zM594.05 394.77h2.9V404.94h-2.9zM600.45 356.6h2.9V398.94h-2.9zM613.25 344.83h2.9V359.01h-2.9zM638.85 355.77h2.9V395.02h-2.9zM651.65 377.41h2.9V385.49h-2.9zM664.45 392.62h2.9V398.41h-2.9zM677.25 461.69h2.9V490.04h-2.9zM683.65 421.6h2.9V463.68h-2.9zM702.85 497.53h2.9V502.44h-2.9zM709.25 477.24h2.9V499.43h-2.9zM715.65 466.95h2.9V483.03h-2.9zM722.05 412.76h2.9V467.5h-2.9zM741.25 434.03h2.9V449.59h-2.9zM747.65 411.51h2.9V438.32h-2.9zM773.25 465.34h2.9V486.28h-2.9zM779.65 435.91h2.9V466.24h-2.9zM786.05 395.23h2.9V442.95h-2.9zM811.65 370.22h2.9V412.66h-2.9zM830.85 388.34h2.9V413.66h-2.9zM837.25 365.2h2.9V388.24h-2.9zM843.65 339.35h2.9V365.85h-2.9zM850.05 332.57h2.9V343.26h-2.9zM856.45 314.26h2.9V334.98h-2.9zM869.25 318.77h2.9V331.22h-2.9zM882.05 343.87h2.9V363.84h-2.9zM888.45 322.54h2.9V344.27h-2.9zM901.25 320.13h2.9V328.18h-2.9zM914.05 351.24h2.9V353.65h-2.9zM920.45 317.19h2.9V351.64h-2.9zM939.65 323.8h2.9V340.68h-2.9zM946.05 286.72h2.9V327.13h-2.9zM958.85 284.97h2.9V293.24h-2.9zM965.25 279.95h2.9V287.34h-2.9zM978.05 272.42h2.9V279.85h-2.9zM1003.65 274.18h2.9V294.49h-2.9zM1010.05 259.12h2.9V274.08h-2.9zM1022.85 262.38h2.9V267.3h-2.9zM1048.45 297.48h2.9V311.15h-2.9zM1054.85 289.2h2.9V301.53h-2.9zM1067.65 305.65h2.9V311.15h-2.9zM1086.85 367.9h2.9V370.31h-2.9zM1093.25 349.08h2.9V373.32h-2.9zM1099.65 338.98h2.9V350.24h-2.9zM1112.45 322.67h2.9V342.21h-2.9zM1118.85 318.16h2.9V330.6h-2.9zM1125.25 278.44h2.9V319.44h-2.9zM1131.65 240.3h2.9V277.84h-2.9zM1150.85 267.4h2.9V277.34h-2.9zM1157.25 262.38h2.9V267.8h-2.9zM1170.05 253.35h2.9V264.04h-2.9zM1182.85 254.1h2.9V257.26h-2.9zM1195.65 238.29h2.9V256.51h-2.9zM1214.85 250.34h2.9V264.04h-2.9zM1227.65 247.83h2.9V255.76h-2.9zM1246.85 249.49h2.9V284.21h-2.9zM1259.65 241.1h2.9V251.02h-2.9zM1266.05 231.71h2.9V245.38h-2.9zM1272.45 225.45h2.9V235.62h-2.9zM1278.85 203.16h2.9V230.11h-2.9zM1285.25 190.86h2.9V204.38h-2.9zM1291.65 189.35h2.9V193.26h-2.9zM1298.05 164.68h2.9V193.26h-2.9zM1304.45 89.67h2.9V166.09h-2.9zM1317.25 141.63h2.9V145.42h-2.9zM1342.85 220.69h2.9V256.28h-2.9zM1349.25 216.31h2.9V221.97h-2.9zM1355.65 191.9h2.9V223.72h-2.9zM1362.05 179.09h2.9V195.02h-2.9zM1368.45 165.81h2.9V179.24h-2.9zM1374.85 151.41h2.9V170.22h-2.9zM1381.25 139.87h2.9V153.44h-2.9zM1394.05 160.05h2.9V173.48h-2.9zM1400.45 147.03h2.9V159.95h-2.9zM1406.85 135.86h2.9V153.44h-2.9zM1419.65 144.27h2.9V150.43h-2.9zM1432.45 129.08h2.9V154.44h-2.9zM1438.85 123.31h2.9V133.25h-2.9zM1445.25 115.78h2.9V124.72h-2.9zM1464.45 106.5h2.9V139.02h-2.9zM1477.25 135.36h2.9V143.29h-2.9z" fill="#fff" stroke="#000" stroke-width="1.1"/>
<polygon points="1484.5,0 1494,0 1489.2,4.4" fill="#C0C0C0"/>
<rect x="1862.9" y="0" width="1.25" height="572" fill="#333"/>
<rect x="1864" y="11.85" width="1.9" height="1.1" fill="#222"/>
<text x="1869.3" y="16.55" font-family="Liberation Sans, Arial, sans-serif" font-size="10.2" fill="#111" stroke="#111" stroke-width="0.15" textLength="35.8" lengthAdjust="spacingAndGlyphs">117.690</text>
<rect x="1864" y="50.97" width="1.9" height="1.1" fill="#222"/>
<text x="1869.3" y="55.67" font-family="Liberation Sans, Arial, sans-serif" font-size="10.2" fill="#111" stroke="#111" stroke-width="0.15" textLength="35.8" lengthAdjust="spacingAndGlyphs">116.730</text>
<rect x="1864" y="90.09" width="1.9" height="1.1" fill="#222"/>
<text x="1869.3" y="94.79" font-family="Liberation Sans, Arial, sans-serif" font-size="10.2" fill="#111" stroke="#111" stroke-width="0.15" textLength="35.8" lengthAdjust="spacingAndGlyphs">115.770</text>
<rect x="1864" y="168.33" width="1.9" height="1.1" fill="#222"/>
<text x="1869.3" y="173.03" font-family="Liberation Sans, Arial, sans-serif" font-size="10.2" fill="#111" stroke="#111" stroke-width="0.15" textLength="35.8" lengthAdjust="spacingAndGlyphs">113.850</text>
<rect x="1864" y="208.06" width="1.9" height="1.1" fill="#222"/>
<text x="1869.3" y="212.76" font-family="Liberation Sans, Arial, sans-serif" font-size="10.2" fill="#111" stroke="#111" stroke-width="0.15" textLength="35.8" lengthAdjust="spacingAndGlyphs">112.875</text>
<rect x="1864" y="247.18" width="1.9" height="1.1" fill="#222"/>
<text x="1869.3" y="251.88" font-family="Liberation Sans, Arial, sans-serif" font-size="10.2" fill="#111" stroke="#111" stroke-width="0.15" textLength="35.8" lengthAdjust="spacingAndGlyphs">111.915</text>
<rect x="1864" y="286.3" width="1.9" height="1.1" fill="#222"/>
<text x="1869.3" y="291" font-family="Liberation Sans, Arial, sans-serif" font-size="10.2" fill="#111" stroke="#111" stroke-width="0.15" textLength="35.8" lengthAdjust="spacingAndGlyphs">110.955</text>
<rect x="1864" y="325.42" width="1.9" height="1.1" fill="#222"/>
<text x="1869.3" y="330.12" font-family="Liberation Sans, Arial, sans-serif" font-size="10.2" fill="#111" stroke="#111" stroke-width="0.15" textLength="35.8" lengthAdjust="spacingAndGlyphs">109.995</text>
<rect x="1864" y="403.66" width="1.9" height="1.1" fill="#222"/>
<text x="1869.3" y="408.36" font-family="Liberation Sans, Arial, sans-serif" font-size="10.2" fill="#111" stroke="#111" stroke-width="0.15" textLength="35.8" lengthAdjust="spacingAndGlyphs">108.075</text>
<rect x="1864" y="442.78" width="1.9" height="1.1" fill="#222"/>
<text x="1869.3" y="447.48" font-family="Liberation Sans, Arial, sans-serif" font-size="10.2" fill="#111" stroke="#111" stroke-width="0.15" textLength="35.8" lengthAdjust="spacingAndGlyphs">107.115</text>
<rect x="1864" y="482.51" width="1.9" height="1.1" fill="#222"/>
<text x="1869.3" y="487.21" font-family="Liberation Sans, Arial, sans-serif" font-size="10.2" fill="#111" stroke="#111" stroke-width="0.15" textLength="35.8" lengthAdjust="spacingAndGlyphs">106.140</text>
<rect x="1864" y="521.63" width="1.9" height="1.1" fill="#222"/>
<text x="1869.3" y="526.33" font-family="Liberation Sans, Arial, sans-serif" font-size="10.2" fill="#111" stroke="#111" stroke-width="0.15" textLength="35.8" lengthAdjust="spacingAndGlyphs">105.180</text>
<rect x="1864" y="560.75" width="1.9" height="1.1" fill="#222"/>
<text x="1869.3" y="565.45" font-family="Liberation Sans, Arial, sans-serif" font-size="10.2" fill="#111" stroke="#111" stroke-width="0.15" textLength="35.8" lengthAdjust="spacingAndGlyphs">104.220</text>
<rect x="1864.9" y="127.9" width="44.6" height="10" fill="#000"/>
<text x="1869.2" y="136.4" font-family="Liberation Sans, Arial, sans-serif" font-size="10" fill="#fff" textLength="35.8" lengthAdjust="spacingAndGlyphs">114.706</text>
<rect x="1864.9" y="129.95" width="44.6" height="10.9" fill="#9400D3"/>
<text x="1869.2" y="139.5" font-family="Liberation Sans, Arial, sans-serif" font-size="10.2" fill="#fff" textLength="35.8" lengthAdjust="spacingAndGlyphs">114.686</text>
<rect x="1864.9" y="149.2" width="44.6" height="10.9" fill="#9400D3"/>
<text x="1869.2" y="158.75" font-family="Liberation Sans, Arial, sans-serif" font-size="10.2" fill="#fff" textLength="35.8" lengthAdjust="spacingAndGlyphs">114.215</text>
<rect x="1864.9" y="221.8" width="44.6" height="10.9" fill="#9400D3"/>
<text x="1869.2" y="231.35" font-family="Liberation Sans, Arial, sans-serif" font-size="10.2" fill="#fff" textLength="35.8" lengthAdjust="spacingAndGlyphs">112.430</text>
<rect x="1864.9" y="360.4" width="44.6" height="10.9" fill="#9400D3"/>
<text x="1869.2" y="369.95" font-family="Liberation Sans, Arial, sans-serif" font-size="10.2" fill="#fff" textLength="35.8" lengthAdjust="spacingAndGlyphs">109.037</text>
<rect x="1803.5" y="442.2" width="55.8" height="13.8" rx="1.5" fill="#000"/>
<text x="1812.6" y="453.6" font-family="Liberation Sans, Arial, sans-serif" font-size="11.3" fill="#fff" textLength="35.6" lengthAdjust="spacingAndGlyphs">BB ON</text>
<polygon points="2.8,5.4 9.4,5.4 6.1,9" fill="#000"/>
<text x="14.8" y="10.3" font-family="Liberation Sans, Arial, sans-serif" font-size="10" fill="#111" textLength="56.6" lengthAdjust="spacingAndGlyphs">CADJPY,Daily</text>
<text x="77.8" y="10.3" font-family="Liberation Sans, Arial, sans-serif" font-size="10" fill="#111" textLength="156.3" lengthAdjust="spacingAndGlyphs">114.472 114.794 114.354 114.706</text>
</svg>
</body></html>
